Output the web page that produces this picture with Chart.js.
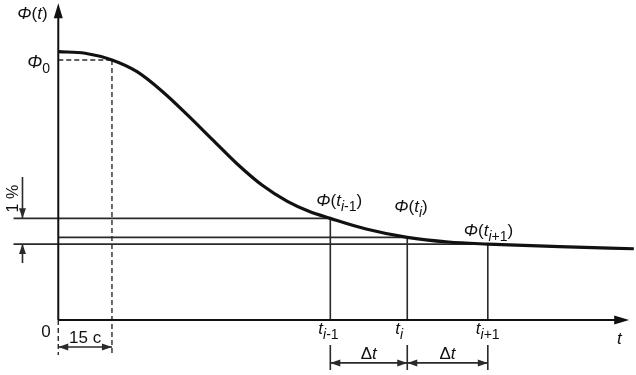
<!DOCTYPE html>
<html>
<head>
<meta charset="utf-8">
<script src="https://cdn.jsdelivr.net/npm/chart.js@4/dist/chart.umd.min.js"></script>
<style>
  html, body { margin: 0; padding: 0; background: #fff; }
  canvas { display: block; }
</style>
</head>
<body>
<canvas id="c" width="636" height="375"></canvas>
<script>
// --- DATA (t in seconds, Φ scaled so that Φ0 = 100) ---
const curveT   = [0, 7.5, 15, 22, 29, 36, 43, 50, 57, 64, 70, 76, 86, 97.5, 109, 120, 140, 160.8];
const curvePhi = [103.2, 102.6, 100, 95.5, 88, 79, 69.5, 60, 51.8, 45.6, 41.8, 39.1, 35.0, 31.8, 30.0, 29.2, 28.2, 27.4];

const stepT    = [76, 97.5, 120];        // t(i-1), t(i), t(i+1)
const stepPhi  = [39.1, 31.8, 29.2];     // Φ at those moments
const stepSubs = ['i-1', 'i', 'i+1'];
const phi0 = 100;
const t15 = 15;

// --- view window / guides (data units) ---
const tMin = -16.28, tMax = 161.4;
const phiMin = -21.15, phiMax = 123.08;
const tArrow = 159.7, phiArrow = 121;
const guideStart = -12.5;
const pctT = -10, pctTop = 55, pctBottom = 21.9;
const belowAxis = -13.5, dimLevel = -10.4, dtLevel = -16.5, tickTop = -9.6, tickBottom = -19.2;

const INK = '#111';
const THIN = '#2a2a2a';

function seg(x1, y1, x2, y2, opts) {
    return Object.assign({
        data: [{x: x1, y: y1}, {x: x2, y: y2}],
        borderColor: THIN,
        borderWidth: 1.6,
        pointRadius: 0,
        showLine: true,
        fill: false,
        tension: 0
    }, opts || {});
}

const datasets = [];

// curve first so it is painted on top
datasets.push({
    data: curveT.map((t, i) => ({x: t, y: curvePhi[i]})),
    borderColor: INK,
    borderWidth: 3.2,
    pointRadius: 0,
    showLine: true,
    fill: false,
    cubicInterpolationMode: 'monotone'
});

// axes
datasets.push(seg(0, 0, tArrow - 3, 0, {borderColor: INK, borderWidth: 2, heads: 'end', head: [15, 4.5], axis: true}));
datasets.push(seg(0, 0, 0, phiArrow - 3, {borderColor: INK, borderWidth: 2, heads: 'end', head: [15, 4.5], axis: true}));

// Φ0 dashed guides
datasets.push(seg(0, phi0, t15, phi0, {borderDash: [5, 3], borderWidth: 1.4}));
datasets.push(seg(t15, phi0, t15, belowAxis, {borderDash: [5, 3], borderWidth: 1.4}));
datasets.push(seg(0, 0, 0, belowAxis, {borderDash: [5, 3], borderWidth: 1.4}));

// horizontal guides at Φ(t)
datasets.push(seg(guideStart, stepPhi[0], stepT[0], stepPhi[0]));
datasets.push(seg(0, stepPhi[1], stepT[1], stepPhi[1]));
datasets.push(seg(guideStart, stepPhi[2], stepT[2], stepPhi[2]));

// vertical lines and ticks below axis
stepT.forEach((t, k) => {
    datasets.push(seg(t, stepPhi[k], t, 0));
    datasets.push(seg(t, tickTop, t, tickBottom));
});

// dimension arrows
datasets.push(seg(0, dimLevel, t15, dimLevel, {heads: 'both', head: [10, 3.5]}));
datasets.push(seg(stepT[0], dtLevel, stepT[1], dtLevel, {heads: 'both', head: [10, 3.5]}));
datasets.push(seg(stepT[1], dtLevel, stepT[2], dtLevel, {heads: 'both', head: [10, 3.5]}));
datasets.push(seg(pctT, pctTop, pctT, stepPhi[0], {heads: 'end', head: [10, 3.5]}));
datasets.push(seg(pctT, pctBottom, pctT, stepPhi[2], {heads: 'end', head: [10, 3.5]}));

// --- arrowheads ---
function head(ctx, x1, y1, x2, y2, len, half, color) {
    const a = Math.atan2(y2 - y1, x2 - x1);
    ctx.save();
    ctx.fillStyle = color;
    ctx.translate(x2, y2);
    ctx.rotate(a);
    ctx.beginPath();
    ctx.moveTo(0, 0);
    ctx.lineTo(-len, -half);
    ctx.lineTo(-len, half);
    ctx.closePath();
    ctx.fill();
    ctx.restore();
}

const arrowPlugin = {
    id: 'arrows',
    afterDatasetsDraw(chart) {
        const ctx = chart.ctx;
        const X = chart.scales.x, Y = chart.scales.y;
        chart.data.datasets.forEach(ds => {
            if (!ds.heads) return;
            const p = ds.data.map(d => [X.getPixelForValue(d.x), Y.getPixelForValue(d.y)]);
            const [len, half] = ds.head;
            // axis heads reach a bit past the line end
            const ext = ds.axis ? 10 : 0;
            const a = Math.atan2(p[1][1] - p[0][1], p[1][0] - p[0][0]);
            const ex = p[1][0] + Math.cos(a) * ext, ey = p[1][1] + Math.sin(a) * ext;
            head(ctx, p[0][0], p[0][1], ex, ey, len, half, ds.borderColor);
            if (ds.heads === 'both') head(ctx, p[1][0], p[1][1], p[0][0], p[0][1], len, half, ds.borderColor);
        });
    }
};

// --- text with italics and subscripts ---
const FAM = '"Liberation Sans", Arial, sans-serif';
function fontFor(style, size) {
    const sub = style.indexOf('s') >= 0;
    const it = style.indexOf('i') >= 0;
    return (it ? 'italic ' : '') + (sub ? Math.round(size * 0.8) : size) + 'px ' + FAM;
}
function rich(ctx, x, y, parts, size) {
    size = size || 17;
    ctx.save();
    ctx.fillStyle = INK;
    ctx.textBaseline = 'alphabetic';
    ctx.textAlign = 'left';
    parts.forEach(([txt, style]) => {
        ctx.font = fontFor(style, size);
        ctx.fillText(txt, x, y + (style.indexOf('s') >= 0 ? 5 : 0));
        x += ctx.measureText(txt).width;
    });
    ctx.restore();
}
function richWidth(ctx, parts, size) {
    size = size || 17;
    let w = 0;
    parts.forEach(([txt, style]) => {
        ctx.font = fontFor(style, size);
        w += ctx.measureText(txt).width;
    });
    return w;
}
function subParts(s) {
    // "i-1" -> italic i, upright -1
    return [[s.charAt(0), 'si']].concat(s.length > 1 ? [[s.slice(1), 's']] : []);
}

const labelPlugin = {
    id: 'labels',
    afterDraw(chart) {
        const ctx = chart.ctx;
        const X = v => chart.scales.x.getPixelForValue(v);
        const Y = v => chart.scales.y.getPixelForValue(v);

        rich(ctx, X(0) - 41, Y(phiArrow) + 14, [['Φ', 'i'], ['(', 'n'], ['t', 'i'], [')', 'n']]);
        rich(ctx, X(0) - 31, Y(phi0) + 8, [['Φ', 'i'], ['0', 's']], 18);
        rich(ctx, X(0) - 17, Y(0) + 17, [['0', 'n']]);

        const p15 = [['15 c', 'n']];
        rich(ctx, X(t15 / 2) - richWidth(ctx, p15) / 2, Y(dimLevel) - 4, p15);

        stepT.forEach((t, k) => {
            rich(ctx, X(t) - 12, Y(0) + 14, [['t', 'i']].concat(subParts(stepSubs[k])));
        });
        rich(ctx, X(tArrow) - 13, Y(0) + 24, [['t', 'i']]);

        for (let k = 0; k < 2; k++) {
            const pd = [['Δ', 'n'], ['t', 'i']];
            rich(ctx, X((stepT[k] + stepT[k + 1]) / 2) - richWidth(ctx, pd) / 2, Y(dtLevel) - 4, pd);
        }

        const offs = [[-14, -12], [-13, -25], [-24, -8]];
        stepT.forEach((t, k) => {
            rich(ctx, X(t) + offs[k][0], Y(stepPhi[k]) + offs[k][1],
                [['Φ', 'i'], ['(', 'n'], ['t', 'i']].concat(subParts(stepSubs[k]), [[')', 'n']]));
        });

        ctx.save();
        ctx.translate(X(pctT) - 4, Y((pctTop + stepPhi[0]) / 2) + 1);
        ctx.rotate(-Math.PI / 2);
        ctx.font = '16px ' + FAM;
        ctx.fillStyle = INK;
        ctx.textAlign = 'center';
        ctx.fillText('1 %', 0, 0);
        ctx.restore();
    }
};

new Chart(document.getElementById('c'), {
    type: 'scatter',
    data: {datasets: datasets},
    options: {
        responsive: false,
        animation: false,
        clip: false,
        layout: {padding: 0},
        plugins: {legend: {display: false}, tooltip: {enabled: false}},
        scales: {
            x: {type: 'linear', min: tMin, max: tMax, display: false},
            y: {type: 'linear', min: phiMin, max: phiMax, display: false}
        }
    },
    plugins: [arrowPlugin, labelPlugin]
});
</script>
</body>
</html>
